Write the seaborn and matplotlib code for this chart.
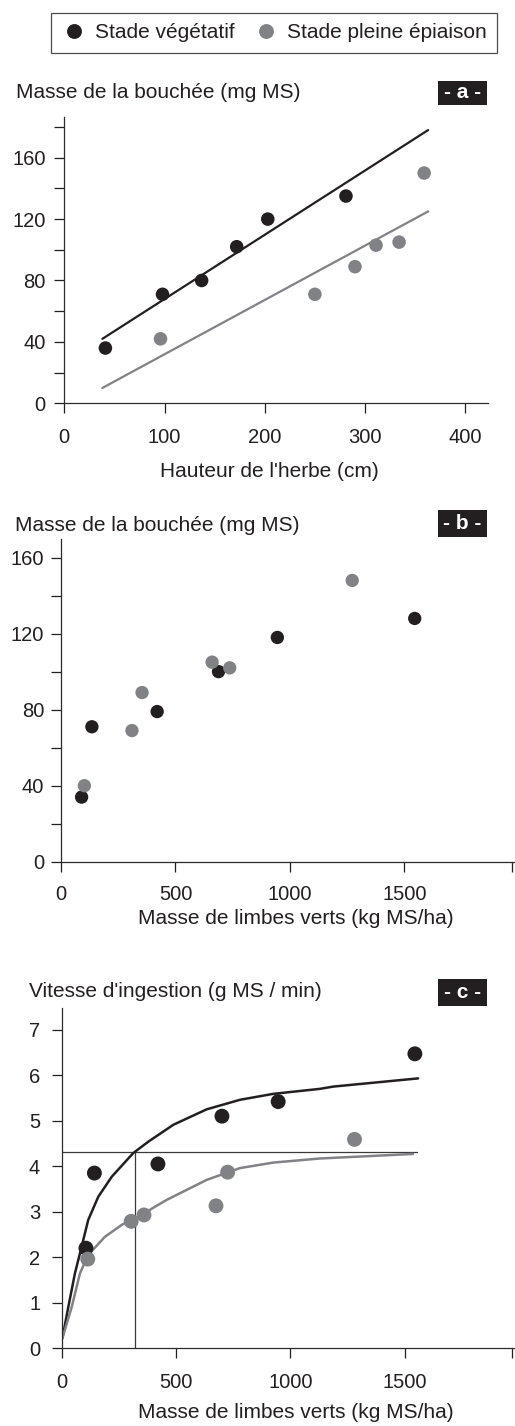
import matplotlib
matplotlib.use("Agg")
import matplotlib.pyplot as plt
from matplotlib.patches import Rectangle
import pandas as pd
import seaborn as sns

# Data

STAGES = ["Stade végétatif", "Stade pleine épiaison"]
COLORS = {"Stade végétatif": "#231f20", "Stade pleine épiaison": "#818285"}

# a - masse de la bouchée vs hauteur de l'herbe
a_veg_x = [41, 98, 137, 172, 203, 281]
a_veg_y = [36, 71, 80, 102, 120, 135]
a_epi_x = [96, 250, 290, 311, 334, 359]
a_epi_y = [42, 71, 89, 103, 105, 150]
a_fit_x = [38, 363]
a_fit_veg = [42, 178]
a_fit_epi = [10, 125]

# b - masse de la bouchée vs masse de limbes verts
b_veg_x = [90, 135, 420, 688, 945, 1545]
b_veg_y = [34, 71, 79, 100, 118, 128]
b_epi_x = [102, 310, 354, 660, 737, 1272]
b_epi_y = [40, 69, 89, 105, 102, 148]

# c - vitesse d'ingestion vs masse de limbes verts
c_veg_x = [106, 143, 421, 701, 947, 1545]
c_veg_y = [2.2, 3.85, 4.05, 5.1, 5.42, 6.47]
c_epi_x = [114, 304, 360, 675, 726, 1281]
c_epi_y = [1.96, 2.79, 2.93, 3.13, 3.87, 4.59]
c_curve_veg_x = [3, 29, 58, 87, 116, 160, 219, 313, 379, 488, 634, 780, 925, 1129, 1188, 1559]
c_curve_veg_y = [0.22, 0.91, 1.65, 2.23, 2.82, 3.33, 3.77, 4.29, 4.54, 4.91, 5.25, 5.46, 5.59, 5.70, 5.75, 5.93]
c_curve_epi_x = [3, 44, 80, 116, 189, 262, 350, 408, 459, 634, 780, 925, 1129, 1537]
c_curve_epi_y = [0.22, 0.91, 1.65, 2.05, 2.45, 2.71, 2.93, 3.11, 3.26, 3.70, 3.96, 4.08, 4.17, 4.27]
c_ref_level = 4.32
c_ref_x = 320
c_ref_end = 1555

TXT = "#231f20"
FS = 15
TICK_FS = 14.5


def frame(xv, yv, xe, ye):
    return pd.DataFrame({
        "x": xv + xe,
        "y": yv + ye,
        "stade": [STAGES[0]] * len(xv) + [STAGES[1]] * len(xe),
    })


sns.set_style("ticks")
plt.rcParams["font.family"] = ["Liberation Sans", "DejaVu Sans"]
plt.rcParams["text.color"] = TXT
plt.rcParams["axes.labelcolor"] = TXT
plt.rcParams["xtick.color"] = TXT
plt.rcParams["ytick.color"] = TXT
plt.rcParams["axes.edgecolor"] = "#2b2b2b"

W, H = 515, 1426
fig = plt.figure(figsize=(W / 100, H / 100), dpi=100)


def px_axes(left, right, top, bottom):
    return fig.add_axes([left / W, 1 - bottom / H, (right - left) / W, (bottom - top) / H])


ax_a = px_axes(64.3, 488.3, 116.7, 403.3)
ax_b = px_axes(61, 515, 539, 861.7)
ax_c = px_axes(61.7, 515, 1008.3, 1348.3)

# Panel a
df_a = frame(a_veg_x, a_veg_y, a_epi_x, a_epi_y)
sns.lineplot(x=a_fit_x, y=a_fit_veg, color=COLORS[STAGES[0]], lw=1.6, ax=ax_a)
sns.lineplot(x=a_fit_x, y=a_fit_epi, color=COLORS[STAGES[1]], lw=1.6, ax=ax_a)
sns.scatterplot(data=df_a, x="x", y="y", hue="stade", palette=COLORS, s=95,
                linewidth=0, zorder=3, ax=ax_a)
ax_a.set_xlim(0, 423)
ax_a.set_ylim(0, 186.7)
ax_a.set_xticks([0, 100, 200, 300, 400])
ax_a.set_yticks([0, 40, 80, 120, 160])
ax_a.set_yticks([20, 60, 100, 140, 180], minor=True)

# Panel b
df_b = frame(b_veg_x, b_veg_y, b_epi_x, b_epi_y)
sns.scatterplot(data=df_b, x="x", y="y", hue="stade", palette=COLORS, s=92,
                linewidth=0, zorder=3, ax=ax_b, legend=False)
ax_b.set_xlim(0, 1983)
ax_b.set_ylim(0, 169.8)
ax_b.set_xticks([0, 500, 1000, 1500, 1972], labels=["0", "500", "1000", "1500", ""])
ax_b.set_yticks([0, 40, 80, 120, 160])
ax_b.set_yticks([20, 60, 100, 140], minor=True)

# Panel c
df_c = frame(c_veg_x, c_veg_y, c_epi_x, c_epi_y)
ax_c.plot([0, c_ref_end], [c_ref_level, c_ref_level], color="#3a3a3a", lw=0.9, zorder=1)
ax_c.plot([c_ref_x, c_ref_x], [0, c_ref_level], color="#3a3a3a", lw=0.9, zorder=1)
sns.lineplot(x=c_curve_veg_x, y=c_curve_veg_y, color=COLORS[STAGES[0]], lw=1.8,
             sort=False, estimator=None, ax=ax_c)
sns.lineplot(x=c_curve_epi_x, y=c_curve_epi_y, color=COLORS[STAGES[1]], lw=1.8,
             sort=False, estimator=None, ax=ax_c)
sns.scatterplot(data=df_c, x="x", y="y", hue="stade", palette=COLORS, s=115,
                linewidth=0, zorder=3, ax=ax_c, legend=False)
ax_c.set_xlim(0, 1983)
ax_c.set_ylim(0, 7.47)
ax_c.set_xticks([0, 500, 1000, 1500, 1972], labels=["0", "500", "1000", "1500", ""])
ax_c.set_yticks(range(0, 8))

for ax in (ax_a, ax_b, ax_c):
    sns.despine(ax=ax)
    for side in ("left", "bottom"):
        ax.spines[side].set_linewidth(0.9)
    ax.tick_params(which="both", length=7.5, width=0.9, labelsize=TICK_FS)
    ax.set_ylabel("")

ax_a.tick_params(axis="x", pad=10.5)
ax_a.tick_params(axis="y", pad=6)
ax_b.tick_params(axis="x", pad=9)
ax_b.tick_params(axis="y", pad=4.5)
ax_c.tick_params(axis="x", pad=10.5)
ax_c.tick_params(axis="y", pad=8)

# x labels
ax_a.set_xlabel("Hauteur de l'herbe (cm)", fontsize=FS, va="center")
ax_a.xaxis.set_label_coords((269 - 64.3) / 424, (403.3 - 471.7) / 286.6)
ax_b.set_xlabel("Masse de limbes verts (kg MS/ha)", fontsize=FS, va="center")
ax_b.xaxis.set_label_coords((296 - 61) / 454, (861.7 - 918) / 322.7)
ax_c.set_xlabel("Masse de limbes verts (kg MS/ha)", fontsize=FS, va="center")
ax_c.xaxis.set_label_coords((296 - 61.7) / 453.3, (1348.3 - 1413) / 340)

# titles above the y axes
fig.text(16 / W, 1 - 92 / H, "Masse de la bouchée (mg MS)", fontsize=FS, va="center")
fig.text(15 / W, 1 - 525 / H, "Masse de la bouchée (mg MS)", fontsize=FS, va="center")
fig.text(29 / W, 1 - 991.7 / H, "Vitesse d'ingestion (g MS / min)", fontsize=FS, va="center")

# panel tags
for tag, top, bottom in (("- a -", 81, 105), ("- b -", 510, 536.7), ("- c -", 979, 1005.7)):
    fig.patches.append(Rectangle((438 / W, 1 - bottom / H), 49 / W, (bottom - top) / H,
                                 transform=fig.transFigure, facecolor="#231f20",
                                 edgecolor="none"))
    fig.text(462.5 / W, 1 - (top + bottom) / 2 / H, tag, color="white", fontsize=FS,
             fontweight="bold", ha="center", va="center")

# legend
handles, labels = ax_a.get_legend_handles_labels()
ax_a.get_legend().remove()
leg = fig.legend(handles, labels, loc="center", bbox_to_anchor=(274 / W, 1 - 33 / H),
                 ncol=2, fontsize=FS, frameon=True, fancybox=False, edgecolor="#231f20",
                 handletextpad=0.4, columnspacing=0.9, borderpad=0.5, handlelength=1.2,
                 markerscale=1.1)
leg.get_frame().set_linewidth(0.9)

fig.savefig("out.png", dpi=100)
